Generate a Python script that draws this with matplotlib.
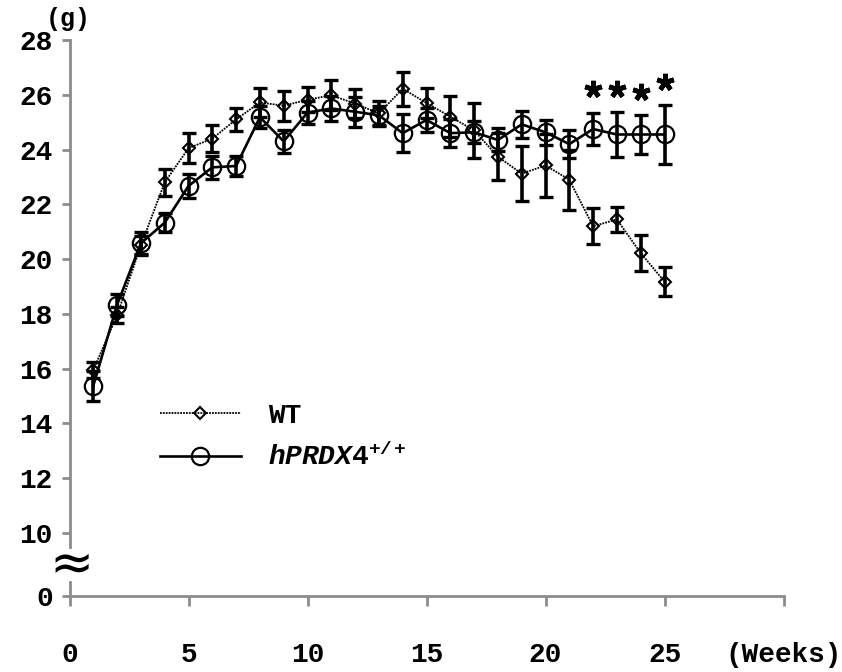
import numpy as np
import matplotlib.pyplot as plt

# body weight (g) per week, mean and error
weeks = np.arange(1, 26)
wt_mean = [15.95, 17.95, 20.5, 22.8, 24.05, 24.4, 25.1, 25.72, 25.6, 25.82, 25.98, 25.68, 25.32,
           26.22, 25.7, 25.2, 24.7, 23.74, 23.12, 23.42, 22.9, 21.2, 21.45, 20.22, 19.18]
wt_err = [0.3, 0.3, 0.35, 0.5, 0.55, 0.5, 0.42, 0.52, 0.55, 0.45, 0.55, 0.52, 0.45,
          0.62, 0.55, 0.75, 1.0, 0.85, 1.0, 1.15, 1.1, 0.65, 0.45, 0.67, 0.52]
hp_mean = [15.38, 18.33, 20.58, 21.33, 22.67, 23.35, 23.4, 25.18, 24.3, 25.35, 25.5, 25.38, 25.25,
           24.6, 25.08, 24.6, 24.63, 24.35, 24.92, 24.63, 24.2, 24.75, 24.55, 24.55, 24.55]
hp_err = [0.55, 0.4, 0.41, 0.35, 0.44, 0.42, 0.38, 0.4, 0.42, 0.42, 0.46, 0.55, 0.35,
          0.68, 0.45, 0.5, 0.4, 0.42, 0.5, 0.46, 0.5, 0.6, 0.82, 0.7, 1.06]
star_weeks = [22, 23, 24, 25]

xtick_vals = [0, 5, 10, 15, 20, 25, 30]
xtick_labels = ['0', '5', '10', '15', '20', '25', '(Weeks)']
ytick_vals = [10, 12, 14, 16, 18, 20, 22, 24, 26, 28]

FONT = 'Liberation Mono'
GREY = '#8c8c8c'
FS = 20

plt.rcParams['mathtext.fontset'] = 'custom'
plt.rcParams['mathtext.rm'] = 'Liberation Mono:bold'
plt.rcParams['mathtext.it'] = 'Liberation Mono:italic:bold'
plt.rcParams['mathtext.bf'] = 'Liberation Mono:bold'

W, H = 842, 672
fig = plt.figure(figsize=(W / 100, H / 100), dpi=100)

# main (upper) part of the broken axis
ax = fig.add_axes([69.5 / W, (H - 546.7) / H, 714 / W, 506.7 / H])
# small lower part that only holds the 0 tick and the x axis
ax0 = fig.add_axes([69.5 / W, (H - 596) / H, 714 / W, 14 / H], sharex=ax)

ax.plot(weeks, wt_mean, color='black', lw=1.3, ls=(0, (1, 0.6)), marker='D', ms=6.5,
        mfc='none', mec='black', mew=1.5, label='WT', zorder=3)
ax.plot(weeks, hp_mean, color='black', lw=1.9, ls='-', marker='o', ms=12.5,
        mfc='none', mec='black', mew=1.6, label=r'$\mathit{hPRDX4}^{\mathit{+/+}}$', zorder=3)
ax.errorbar(weeks, wt_mean, yerr=wt_err, fmt='none', ecolor='black', elinewidth=2.6,
            capsize=5, capthick=2.4, zorder=4)
ax.errorbar(weeks, hp_mean, yerr=hp_err, fmt='none', ecolor='black', elinewidth=2.6,
            capsize=5, capthick=2.4, zorder=4)

# significance marks
star_idx = [w - 1 for w in star_weeks]
star_y = [hp_mean[i] + hp_err[i] + 0.85 for i in star_idx]
ax.plot(star_weeks, star_y, ls='none', marker=(5, 2, 0), ms=12.5, color='black', mew=3.4, zorder=5)

ax.set_xlim(0, 30)
ax.set_ylim(9.5, 28)
ax.set_yticks(ytick_vals)
ax.set_yticklabels([str(v) for v in ytick_vals], fontsize=FS, fontweight='bold', family=FONT)
ax.tick_params(axis='y', direction='out', length=6, width=2, color=GREY, pad=6)
ax.tick_params(axis='x', bottom=False, labelbottom=False)
for s in ['top', 'right', 'bottom']:
    ax.spines[s].set_visible(False)
ax.spines['left'].set_color(GREY)
ax.spines['left'].set_linewidth(2)

ax0.set_ylim(0, 14 / 27.4)
ax0.set_yticks([0])
ax0.set_yticklabels(['0'], fontsize=FS, fontweight='bold', family=FONT)
ax0.set_xticks(xtick_vals)
ax0.set_xticklabels(xtick_labels, fontsize=FS, fontweight='bold', family=FONT)
ax0.tick_params(axis='y', direction='out', length=6, width=2, color=GREY, pad=6)
ax0.tick_params(axis='x', direction='out', length=7, width=2, color=GREY, pad=26)
for s in ['top', 'right']:
    ax0.spines[s].set_visible(False)
for s in ['left', 'bottom']:
    ax0.spines[s].set_color(GREY)
    ax0.spines[s].set_linewidth(2)
ax0.patch.set_alpha(0)

# break sign and unit
fig.text(72 / W, 1 - 565 / H, '\u2248', ha='center', va='center', fontsize=38,
         family='DejaVu Sans')
fig.text(68 / W, 1 - 19 / H, '(g)', ha='center', va='center', fontsize=FS - 2,
         fontweight='bold', family=FONT)

leg = ax.legend(loc='upper left', bbox_to_anchor=(90.5 / 714, 1 - (403 - 40) / 506.7),
                frameon=False, handlelength=2.9, handletextpad=1.0, labelspacing=0.5,
                borderpad=0, borderaxespad=0,
                prop={'family': FONT, 'weight': 'bold', 'size': FS})

fig.savefig('out.png', dpi=100)
